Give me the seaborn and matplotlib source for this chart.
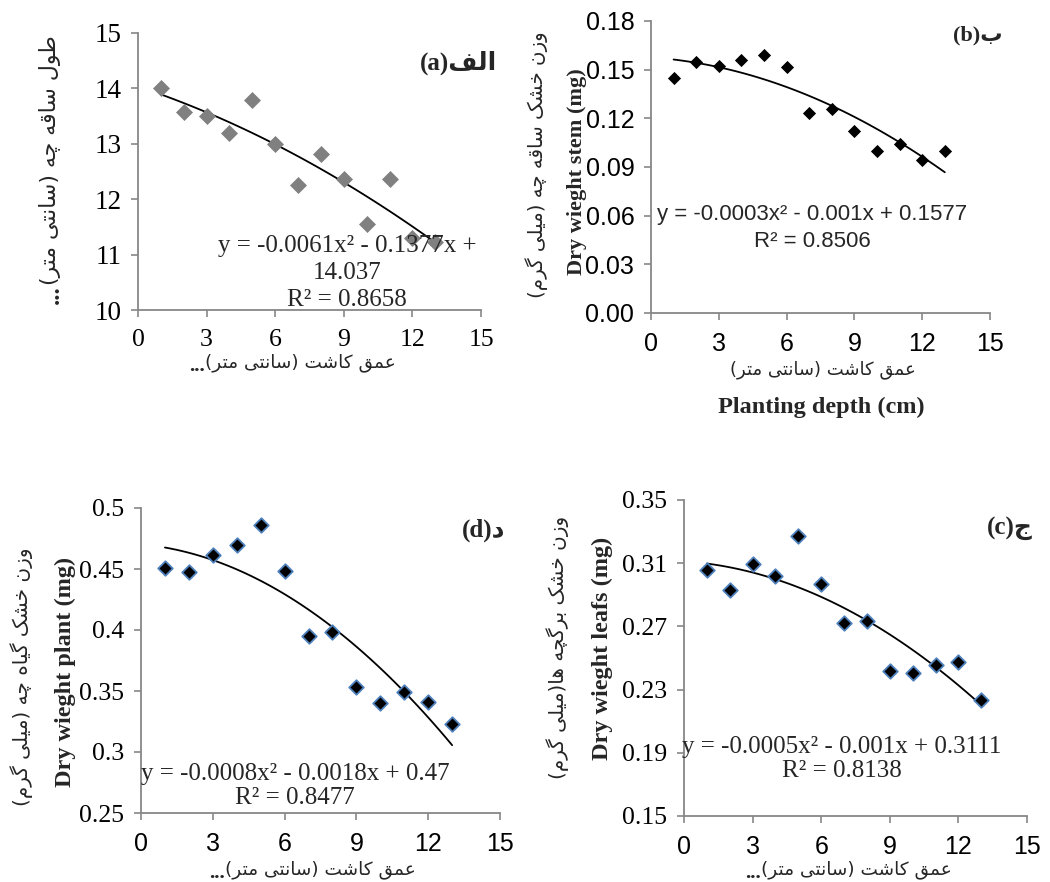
import numpy as np
import pandas as pd
import matplotlib
matplotlib.use("Agg")
import matplotlib.pyplot as plt
import seaborn as sns

# ---------------- data ----------------
depth = [1, 2, 3, 4, 5, 6, 7, 8, 9, 10, 11, 12, 13]
stem_length = [14.0, 13.58, 13.50, 13.2, 13.79, 13.0, 12.25, 12.81, 12.37, 11.56, 12.37, 11.30, 11.22]
stem_dry = [0.145, 0.1547, 0.1523, 0.1557, 0.1592, 0.1516, 0.1233, 0.1257, 0.1122, 0.0999, 0.104, 0.0941, 0.0999]
leaf_dry = [0.3059, 0.2928, 0.3095, 0.3019, 0.327, 0.2968, 0.2719, 0.2735, 0.2419, 0.2402, 0.2453, 0.2472, 0.2233]
plant_dry = [0.4509, 0.4477, 0.4618, 0.4695, 0.4864, 0.4485, 0.395, 0.3986, 0.3536, 0.340, 0.3493, 0.3408, 0.3228]

x_ticks = [0, 3, 6, 9, 12, 15]
x_tick_labels = ["0", "3", "6", "9", "12", "15"]
a_yticks = [10, 11, 12, 13, 14, 15]
a_ylabels = ["10", "11", "12", "13", "14", "15"]
b_yticks = [0.00, 0.03, 0.06, 0.09, 0.12, 0.15, 0.18]
b_ylabels = ["0.00", "0.03", "0.06", "0.09", "0.12", "0.15", "0.18"]
c_yticks = [0.15, 0.19, 0.23, 0.27, 0.31, 0.35]
c_ylabels = ["0.15", "0.19", "0.23", "0.27", "0.31", "0.35"]
d_yticks = [0.25, 0.30, 0.35, 0.40, 0.45, 0.50]
d_ylabels = ["0.25", "0.3", "0.35", "0.4", "0.45", "0.5"]

eq_a = "y = -0.0061x\u00b2 - 0.1377x +\n14.037\nR\u00b2 = 0.8658"
eq_b = "y = -0.0003x\u00b2 - 0.001x + 0.1577\nR\u00b2 = 0.8506"
eq_c = "y = -0.0005x\u00b2 - 0.001x + 0.3111\nR\u00b2 = 0.8138"
eq_d = "y = -0.0008x\u00b2 - 0.0018x + 0.47\nR\u00b2 = 0.8477"

fa_x = "عمق کاشت (سانتی متر)"
fa_x_b = "عمق کاشت (سانتی متر)"
fa_y_a = "طول ساقه چه (سانتی متر)"
fa_y_b = "وزن خشک ساقه چه (میلی گرم)"
fa_y_c = "وزن خشک برگچه ها(میلی گرم)"
fa_y_d = "وزن خشک گیاه چه (میلی گرم)"
dots = "..."
en_y_b = "Dry wieght stem (mg)"
en_y_c = "Dry wieght leafs (mg)"
en_y_d = "Dry wieght plant (mg)"
en_x_b = "Planting depth (cm)"
tag_a, tag_b, tag_c, tag_d = "الف", "ب", "ج", "د"

# ------------- minimal Persian shaping (presentation forms + RTL order) -------------
FORMS = {
    "\u0627": ("\uFE8D", "\uFE8E", None, None),
    "\u0628": ("\uFE8F", "\uFE90", "\uFE91", "\uFE92"),
    "\u062A": ("\uFE95", "\uFE96", "\uFE97", "\uFE98"),
    "\u062C": ("\uFE9D", "\uFE9E", "\uFE9F", "\uFEA0"),
    "\u062E": ("\uFEA5", "\uFEA6", "\uFEA7", "\uFEA8"),
    "\u062F": ("\uFEA9", "\uFEAA", None, None),
    "\u0631": ("\uFEAD", "\uFEAE", None, None),
    "\u0632": ("\uFEAF", "\uFEB0", None, None),
    "\u0633": ("\uFEB1", "\uFEB2", "\uFEB3", "\uFEB4"),
    "\u0634": ("\uFEB5", "\uFEB6", "\uFEB7", "\uFEB8"),
    "\u0637": ("\uFEC1", "\uFEC2", "\uFEC3", "\uFEC4"),
    "\u0639": ("\uFEC9", "\uFECA", "\uFECB", "\uFECC"),
    "\u0641": ("\uFED1", "\uFED2", "\uFED3", "\uFED4"),
    "\u0642": ("\uFED5", "\uFED6", "\uFED7", "\uFED8"),
    "\u0644": ("\uFEDD", "\uFEDE", "\uFEDF", "\uFEE0"),
    "\u0645": ("\uFEE1", "\uFEE2", "\uFEE3", "\uFEE4"),
    "\u0646": ("\uFEE5", "\uFEE6", "\uFEE7", "\uFEE8"),
    "\u0647": ("\uFEE9", "\uFEEA", "\uFEEB", "\uFEEC"),
    "\u0648": ("\uFEED", "\uFEEE", None, None),
    "\u06CC": ("\uFBFC", "\uFBFD", "\uFBFE", "\uFBFF"),
    "\u06A9": ("\uFB8E", "\uFB8F", "\uFB90", "\uFB91"),
    "\u06AF": ("\uFB92", "\uFB93", "\uFB94", "\uFB95"),
    "\u0686": ("\uFB7A", "\uFB7B", "\uFB7C", "\uFB7D"),
}
MIRROR = {"(": ")", ")": "("}


def fa(text):
    text = text.replace("\u064A", "\u06CC").replace("\u0643", "\u06A9")
    out = []
    n = len(text)
    for i, c in enumerate(text):
        if c not in FORMS:
            out.append(MIRROR.get(c, c))
            continue
        prev = text[i - 1] if i > 0 else None
        nxt = text[i + 1] if i + 1 < n else None
        jp = prev in FORMS and FORMS[prev][2] is not None
        jn = nxt in FORMS and FORMS[c][2] is not None
        iso, fin, ini, med = FORMS[c]
        if jp and jn:
            out.append(med)
        elif jp:
            out.append(fin)
        elif jn:
            out.append(ini)
        else:
            out.append(iso)
    return "".join(reversed(out))


# ---------------- style ----------------
sns.set_style("white")
plt.rcParams["font.family"] = ["Liberation Serif", "DejaVu Sans"]
plt.rcParams["axes.unicode_minus"] = False

W, H = 1050, 882
fig = plt.figure(figsize=(W / 100, H / 100), dpi=100)

SERIF = ["Liberation Serif", "DejaVu Sans"]
SANS = ["Liberation Sans", "DejaVu Sans"]
ARAB = ["DejaVu Sans"]
SPINE = "#878787"


def add_ax(l, t, r, b):
    return fig.add_axes([l / W, 1 - b / H, (r - l) / W, (b - t) / H])


def ftxt(x, y, s, **kw):
    return fig.text(x / W, 1 - y / H, s, **kw)


def style_ax(ax, yt, yl, ylim, yfam, xfam, ysize, xsize):
    ax.set_xlim(0, 15)
    ax.set_ylim(*ylim)
    ax.set_xticks(x_ticks)
    ax.set_xticklabels(x_tick_labels, fontfamily=xfam, fontsize=xsize)
    ax.set_yticks(yt)
    ax.set_yticklabels(yl, fontfamily=yfam, fontsize=ysize)
    for s in ["top", "right"]:
        ax.spines[s].set_visible(False)
    for s in ["left", "bottom"]:
        ax.spines[s].set_color(SPINE)
        ax.spines[s].set_linewidth(1.3)
    ax.tick_params(axis="both", direction="out", length=5, width=1.2, color=SPINE,
                   pad=7, labelcolor="black", left=True, bottom=True)
    ax.tick_params(axis="x", pad=9)
    ax.set_xlabel("")
    ax.set_ylabel("")
    ax.grid(False)


def panel(ax, y, color, edge, size):
    df = pd.DataFrame({"x": depth, "y": y})
    sns.regplot(data=df, x="x", y="y", order=2, ci=None, scatter=False, ax=ax,
                line_kws=dict(color="black", lw=1.3), truncate=True)
    sns.scatterplot(data=df, x="x", y="y", ax=ax, marker="D", s=size, color=color,
                    edgecolor=edge, linewidth=1.3 if edge != color else 0, zorder=3)


def fa_label(x, y, text, size, rotation=0, with_dots=True):
    """Persian label centred at pixel (x, y); bold dots placed at its visual left end."""
    t = ftxt(x, y, fa(text), ha="center", va="center", rotation=rotation,
             fontsize=size, family=ARAB)
    if with_dots:
        fig.canvas.draw()
        bb = t.get_window_extent()
        if rotation == 0:
            fig.text(bb.x0 / W, 1 - (y + 3) / H, dots, ha="right", va="center",
                     fontsize=size + 2, family=SERIF, fontweight="bold")
        else:
            fig.text(x / W + 0.002, bb.y0 / H, dots, ha="center", va="top", rotation=90,
                     fontsize=size + 2, family=SERIF, fontweight="bold")


# ---- panel a ----
ax_a = add_ax(138, 33, 481, 310)
panel(ax_a, stem_length, "#808080", "#808080", 75)
style_ax(ax_a, a_yticks, a_ylabels, (10, 15), SERIF, SERIF, 19.5, 18.5)

# ---- panel b ----
ax_b = add_ax(651, 21, 990, 313)
panel(ax_b, stem_dry, "black", "black", 45)
style_ax(ax_b, b_yticks, b_ylabels, (0, 0.18), SANS, SANS, 18, 18)

# ---- panel d ----
ax_d = add_ax(141, 508, 500, 813)
panel(ax_d, plant_dry, "black", "#4F81BD", 55)
style_ax(ax_d, d_yticks, d_ylabels, (0.25, 0.5), SERIF, SANS, 18.5, 18)

# ---- panel c ----
ax_c = add_ax(684, 500, 1027, 816)
panel(ax_c, leaf_dry, "black", "#4F81BD", 55)
style_ax(ax_c, c_yticks, c_ylabels, (0.15, 0.35), SERIF, SANS, 18.5, 18)

# ---- equations ----
ftxt(347, 273, eq_a, ha="center", va="center", fontsize=18, family=SERIF, linespacing=1.28)
ftxt(812, 228, eq_b, ha="center", va="center", fontsize=16, family=SANS, linespacing=1.4)
ftxt(295, 786, eq_d, ha="center", va="center", fontsize=18, family=SERIF, linespacing=1.1)
ftxt(842, 759, eq_c, ha="center", va="center", fontsize=18, family=SERIF, linespacing=1.1)

# ---- panel tags ----
ftxt(497, 63, "(a)" + fa(tag_a), ha="right", va="center", fontsize=18, family=SERIF, fontweight="bold")
ftxt(1003, 35, "(b)" + fa(tag_b), ha="right", va="center", fontsize=16, family=SERIF, fontweight="bold")
ftxt(505, 530, "(d)" + fa(tag_d), ha="right", va="center", fontsize=18, family=SERIF, fontweight="bold")
ftxt(1033, 528, "(c)" + fa(tag_c), ha="right", va="center", fontsize=18, family=SERIF, fontweight="bold")

# ---- axis titles ----
fa_label(300, 363, fa_x, 13.3)
fa_label(320, 870, fa_x, 13.3)
fa_label(856, 870, fa_x, 13.3)
fa_label(823, 370, fa_x_b, 13, with_dots=False)
ftxt(821, 407, en_x_b, ha="center", va="center", fontsize=17.5, family=SERIF, fontweight="bold")

fa_label(50, 160, fa_y_a, 15.8, rotation=90)
fa_label(537, 165, fa_y_b, 14.2, rotation=90, with_dots=False)
ftxt(577, 172, en_y_b, ha="center", va="center", rotation=90, fontsize=16, family=SERIF, fontweight="bold")
fa_label(22, 677, fa_y_d, 14.4, rotation=90, with_dots=False)
ftxt(65, 672, en_y_d, ha="center", va="center", rotation=90, fontsize=17.5, family=SERIF, fontweight="bold")
fa_label(558, 647, fa_y_c, 14.4, rotation=90, with_dots=False)
ftxt(602, 648, en_y_c, ha="center", va="center", rotation=90, fontsize=17.5, family=SERIF, fontweight="bold")

fig.savefig("out.png", dpi=100, facecolor="white")
